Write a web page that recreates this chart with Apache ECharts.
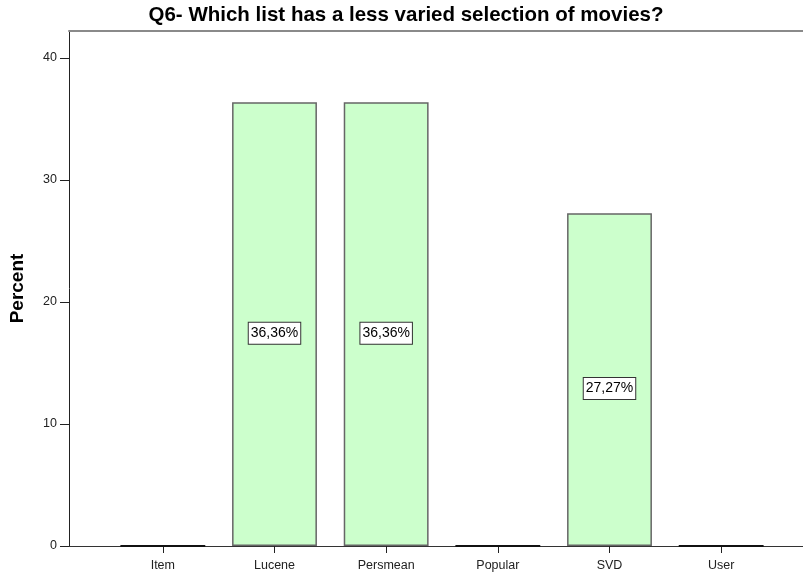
<!DOCTYPE html>
<html>
<head>
<meta charset="utf-8">
<script src="https://cdn.jsdelivr.net/npm/echarts@6/dist/echarts.min.js"></script>
<style>
  html, body { margin: 0; padding: 0; background: #fff; }
  #chart { width: 803px; height: 573px; }
</style>
</head>
<body>
<div id="chart"></div>
<script>
// Share of respondents per recommendation list
const categories = ['Item', 'Lucene', 'Persmean', 'Popular', 'SVD', 'User'];
const percents = [0, 36.36, 36.36, 0, 27.27, 0];
const yTicks = [0, 10, 20, 30, 40];
const yMax = 42.2;

const fontFamily = '"Liberation Sans", Arial, sans-serif';

const barData = percents.map(function (v) {
  if (v === 0) {
    return {
      value: v,
      itemStyle: { borderColor: '#111', borderWidth: 2.2 },
      label: { show: false }
    };
  }
  return { value: v };
});

const chart = echarts.init(document.getElementById('chart'), null, { renderer: 'canvas' });

chart.setOption({
  animation: false,
  backgroundColor: '#fff',
  title: {
    text: 'Q6- Which list has a less varied selection of movies?',
    left: 406,
    textAlign: 'center',
    top: 5,
    padding: 0,
    textStyle: { fontFamily: fontFamily, fontSize: 20.5, fontWeight: 'bold', color: '#000' }
  },
  grid: [
    // frame: y axis, baseline and top rule
    { left: 69, right: 0, top: 31, bottom: 27 },
    // bars
    { left: 107, right: 26, top: 31, bottom: 27 }
  ],
  xAxis: [
    {
      gridIndex: 0, type: 'category', data: [], position: 'bottom',
      axisLine: { show: true, lineStyle: { color: '#333', width: 1 } },
      axisTick: { show: false }, axisLabel: { show: false }, splitLine: { show: false }
    },
    {
      gridIndex: 0, type: 'category', data: [], position: 'top',
      axisLine: { show: true, lineStyle: { color: '#8a8a8a', width: 2 } },
      axisTick: { show: false }, axisLabel: { show: false }, splitLine: { show: false }
    },
    {
      gridIndex: 1, type: 'category', data: categories, position: 'bottom',
      axisLine: { show: false },
      axisTick: { show: true, alignWithLabel: true, length: 7, lineStyle: { color: '#222', width: 1 } },
      axisLabel: { fontFamily: fontFamily, fontSize: 12.5, color: '#222', margin: 13 },
      splitLine: { show: false }
    }
  ],
  yAxis: [
    {
      gridIndex: 0, type: 'value', min: 0, max: yMax,
      name: 'Percent', nameLocation: 'middle', nameGap: 42, nameRotate: 90,
      nameTextStyle: { fontFamily: fontFamily, fontSize: 19, fontWeight: 'bold', color: '#000' },
      axisLine: { show: true, lineStyle: { color: '#222', width: 1 } },
      axisTick: { show: true, length: 9, customValues: yTicks, lineStyle: { color: '#222' } },
      axisLabel: { customValues: yTicks, fontFamily: fontFamily, fontSize: 12.5, color: '#222', margin: 12 },
      splitLine: { show: false }
    },
    {
      gridIndex: 1, type: 'value', min: 0, max: yMax, show: false
    }
  ],
  series: [
    {
      type: 'bar',
      xAxisIndex: 2,
      yAxisIndex: 1,
      data: barData,
      barCategoryGap: '24%',
      itemStyle: { color: '#ccffcc', borderColor: '#666', borderWidth: 1.5 },
      label: {
        show: true,
        position: 'inside',
        offset: [0, 9],
        formatter: function (p) { return p.value.toFixed(2).replace('.', ',') + '%'; },
        fontFamily: fontFamily,
        fontSize: 14,
        color: '#000',
        backgroundColor: '#fff',
        borderColor: '#333',
        borderWidth: 1,
        padding: [4, 2, 3, 2]
      }
    }
  ]
});
</script>
</body>
</html>
